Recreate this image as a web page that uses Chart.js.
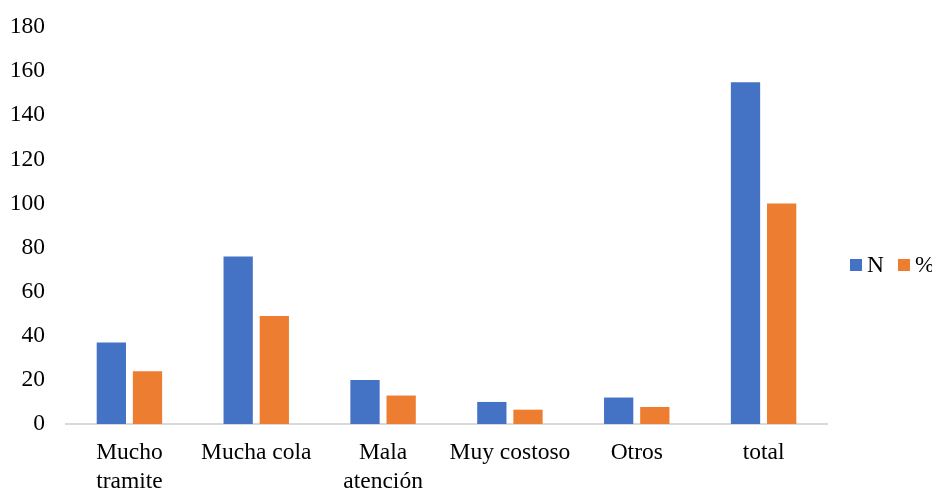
<!DOCTYPE html>
<html>
<head>
<meta charset="utf-8">
<script src="https://cdn.jsdelivr.net/npm/chart.js@4"></script>
<style>
  html, body { margin: 0; padding: 0; background: #fff; }
  #wrap { width: 932px; height: 489px; position: relative; }
</style>
</head>
<body>
<div id="wrap"><canvas id="c" width="932" height="489"></canvas></div>
<script>
// Motivos de insatisfacción: frecuencia (N) y porcentaje (%)
const categories = [["Mucho", "tramite"], "Mucha cola", ["Mala", "atención"], "Muy costoso", "Otros", "total"];
const seriesN = [37, 76, 20, 10, 12, 155];
const seriesPct = [23.9, 49, 12.9, 6.5, 7.7, 100];
const yTicks = [0, 20, 40, 60, 80, 100, 120, 140, 160, 180];

const FONT = "'Liberation Serif', 'Times New Roman', serif";
const FONT_SIZE = 23.5;

// Horizontal legend drawn to the right of the plot area
const sideLegend = {
  id: 'sideLegend',
  afterDraw(chart) {
    const ctx = chart.ctx;
    const y = 265;
    let x = 850;
    ctx.save();
    ctx.font = FONT_SIZE + "px " + FONT;
    ctx.textBaseline = 'middle';
    chart.data.datasets.forEach(ds => {
      ctx.fillStyle = ds.backgroundColor;
      ctx.fillRect(x, y - 6, 12, 12);
      x += 17;
      ctx.fillStyle = '#000';
      ctx.fillText(ds.label, x, y + 1);
      x += ctx.measureText(ds.label).width + 14;
    });
    ctx.restore();
  }
};

new Chart(document.getElementById('c'), {
  type: 'bar',
  data: {
    labels: categories,
    datasets: [
      { label: 'N', data: seriesN, backgroundColor: '#4472C4' },
      { label: '%', data: seriesPct, backgroundColor: '#ED7D31' }
    ]
  },
  options: {
    responsive: false,
    animation: false,
    devicePixelRatio: 1,
    layout: { padding: { top: 27, right: 105, left: 0, bottom: 0 } },
    plugins: {
      legend: { display: false },
      tooltip: { enabled: false }
    },
    datasets: { bar: { categoryPercentage: 0.57, barPercentage: 0.81 } },
    scales: {
      x: {
        grid: { display: false, drawTicks: false },
        border: { display: true, color: '#d9d9d9', width: 2 },
        ticks: {
          color: '#000',
          font: { family: FONT, size: FONT_SIZE, lineHeight: 1.23 },
          padding: 14,
          maxRotation: 0,
          autoSkip: false
        },
        afterFit(scale) { scale.height = 65; }
      },
      y: {
        min: 0,
        max: 180,
        afterBuildTicks(scale) { scale.ticks = yTicks.map(v => ({ value: v })); },
        grid: { display: false, drawTicks: false },
        border: { display: false },
        ticks: {
          color: '#000',
          font: { family: FONT, size: FONT_SIZE },
          padding: 21
        },
        afterFit(scale) {
          scale.width = 66;
          // plot top is set by the layout padding alone
          scale.paddingTop = 0;
        }
      }
    }
  },
  plugins: [sideLegend]
});
</script>
</body>
</html>
